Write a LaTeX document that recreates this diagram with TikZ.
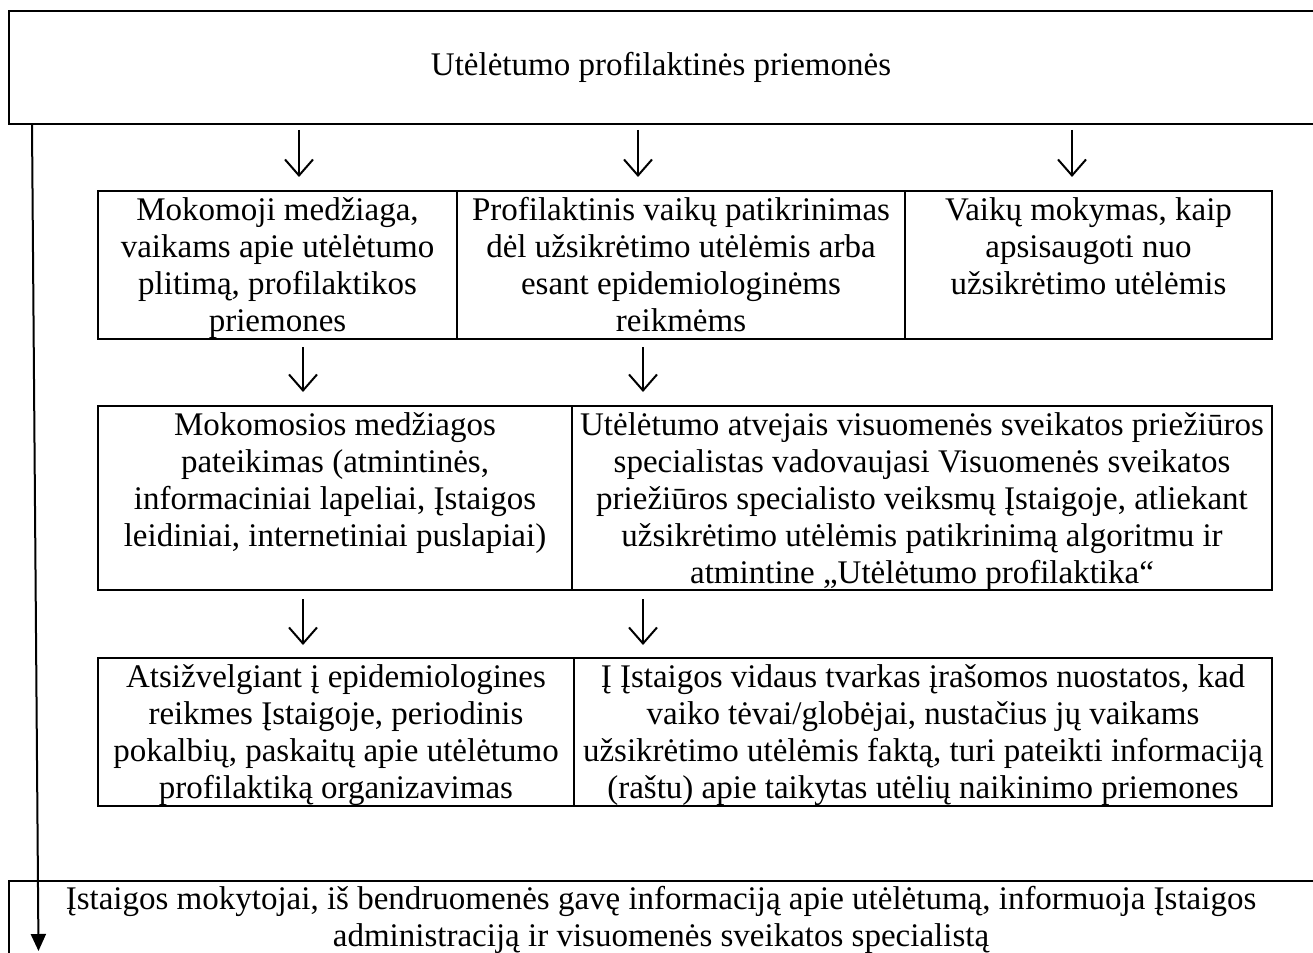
\documentclass[tikz,border=0pt]{standalone}
\usepackage{fontspec}
\setmainfont{Liberation Serif}
\usetikzlibrary{arrows.meta}
\newcommand\bxtxt[4][29pt]{\parbox[t][#3][t]{#2}{\centering\rule{0pt}{#1}#4\par}}
\begin{document}
\begin{tikzpicture}[x=1pt,y=-1pt,line width=2pt,
  font=\fontsize{33pt}{37pt}\selectfont,
  bx/.style={draw,rectangle,line width=2pt,inner sep=0pt,anchor=north west},
  sarr/.style={-{Straight Barb[length=16pt,width=28pt,line width=2pt]},line width=2pt},
  larr/.style={-{Triangle[length=17pt,width=15pt]},line width=2pt}]
\useasboundingbox (0,0) rectangle (1313,952);
\clip (0,0) rectangle (1313,952);
\fill[white] (0,0) rectangle (1313,952);
% top box
\node[bx] (top) at (8,10) {\bxtxt[65pt]{1320pt}{113pt}{\hspace*{-16pt}Utėlėtumo profilaktinės priemonės}};
% row 1
\node[bx] (b1) at (97,190) {\bxtxt{359pt}{148pt}{Mokomoji medžiaga,\\ vaikams apie utėlėtumo\\ plitimą, profilaktikos\\ priemones}};
\node[bx] (b2) at (456,190) {\bxtxt{448pt}{148pt}{Profilaktinis vaikų patikrinimas\\ dėl užsikrėtimo utėlėmis arba\\ esant epidemiologinėms\\ reikmėms}};
\node[bx] (b3) at (904,190) {\bxtxt{367pt}{148pt}{Vaikų mokymas, kaip\\ apsisaugoti nuo\\ užsikrėtimo utėlėmis}};
% row 2
\node[bx] (c1) at (97,405) {\bxtxt{474pt}{184pt}{Mokomosios medžiagos\\ pateikimas (atmintinės,\\ informaciniai lapeliai, Įstaigos\\ leidiniai, internetiniai puslapiai)}};
\node[bx] (c2) at (571,405) {\bxtxt{700pt}{184pt}{Utėlėtumo atvejais visuomenės sveikatos priežiūros\\ specialistas vadovaujasi Visuomenės sveikatos\\ priežiūros specialisto veiksmų Įstaigoje, atliekant\\ užsikrėtimo utėlėmis patikrinimą algoritmu ir\\ atmintine „Utėlėtumo profilaktika“}};
% row 3
\node[bx] (d1) at (97,657) {\bxtxt{476pt}{148pt}{Atsižvelgiant į epidemiologines\\ reikmes Įstaigoje, periodinis\\ pokalbių, paskaitų apie utėlėtumo\\ profilaktiką organizavimas}};
\node[bx] (d2) at (573,657) {\bxtxt{698pt}{148pt}{Į Įstaigos vidaus tvarkas įrašomos nuostatos, kad\\ vaiko tėvai/globėjai, nustačius jų vaikams\\ užsikrėtimo utėlėmis faktą, turi pateikti informaciją\\ (raštu) apie taikytas utėlių naikinimo priemones}};
% bottom box
\node[bx] (bot) at (8,880) {\bxtxt[28pt]{1320pt}{110pt}{\hspace*{-16pt}Įstaigos mokytojai, iš bendruomenės gavę informaciją apie utėlėtumą, informuoja Įstaigos\\ \hspace*{-16pt}administraciją ir visuomenės sveikatos specialistą}};
% arrow columns
\coordinate (ax1) at (299,0);
\coordinate (ax2) at (638,0);
\coordinate (ax3) at (1072,0);
\coordinate (ax4) at (303,0);
\coordinate (ax5) at (643,0);
\draw[sarr,shorten <=5pt,shorten >=13pt] (top.south -| ax1) -- (b1.north -| ax1);
\draw[sarr,shorten <=5pt,shorten >=13pt] (top.south -| ax2) -- (b2.north -| ax2);
\draw[sarr,shorten <=5pt,shorten >=13pt] (top.south -| ax3) -- (b3.north -| ax3);
\draw[sarr,shorten <=7pt,shorten >=13pt] (b1.south -| ax4) -- (c1.north -| ax4);
\draw[sarr,shorten <=7pt,shorten >=13pt] (b2.south -| ax5) -- (c2.north -| ax5);
\draw[sarr,shorten <=8pt,shorten >=12pt] (c1.south -| ax4) -- (d1.north -| ax4);
\draw[sarr,shorten <=8pt,shorten >=12pt] (c2.south -| ax5) -- (d2.north -| ax5);
% long arrow
\coordinate (lend) at (38.5,951);
\draw[larr] ([xshift=24pt]top.south west) -- (lend);
\end{tikzpicture}
\end{document}
